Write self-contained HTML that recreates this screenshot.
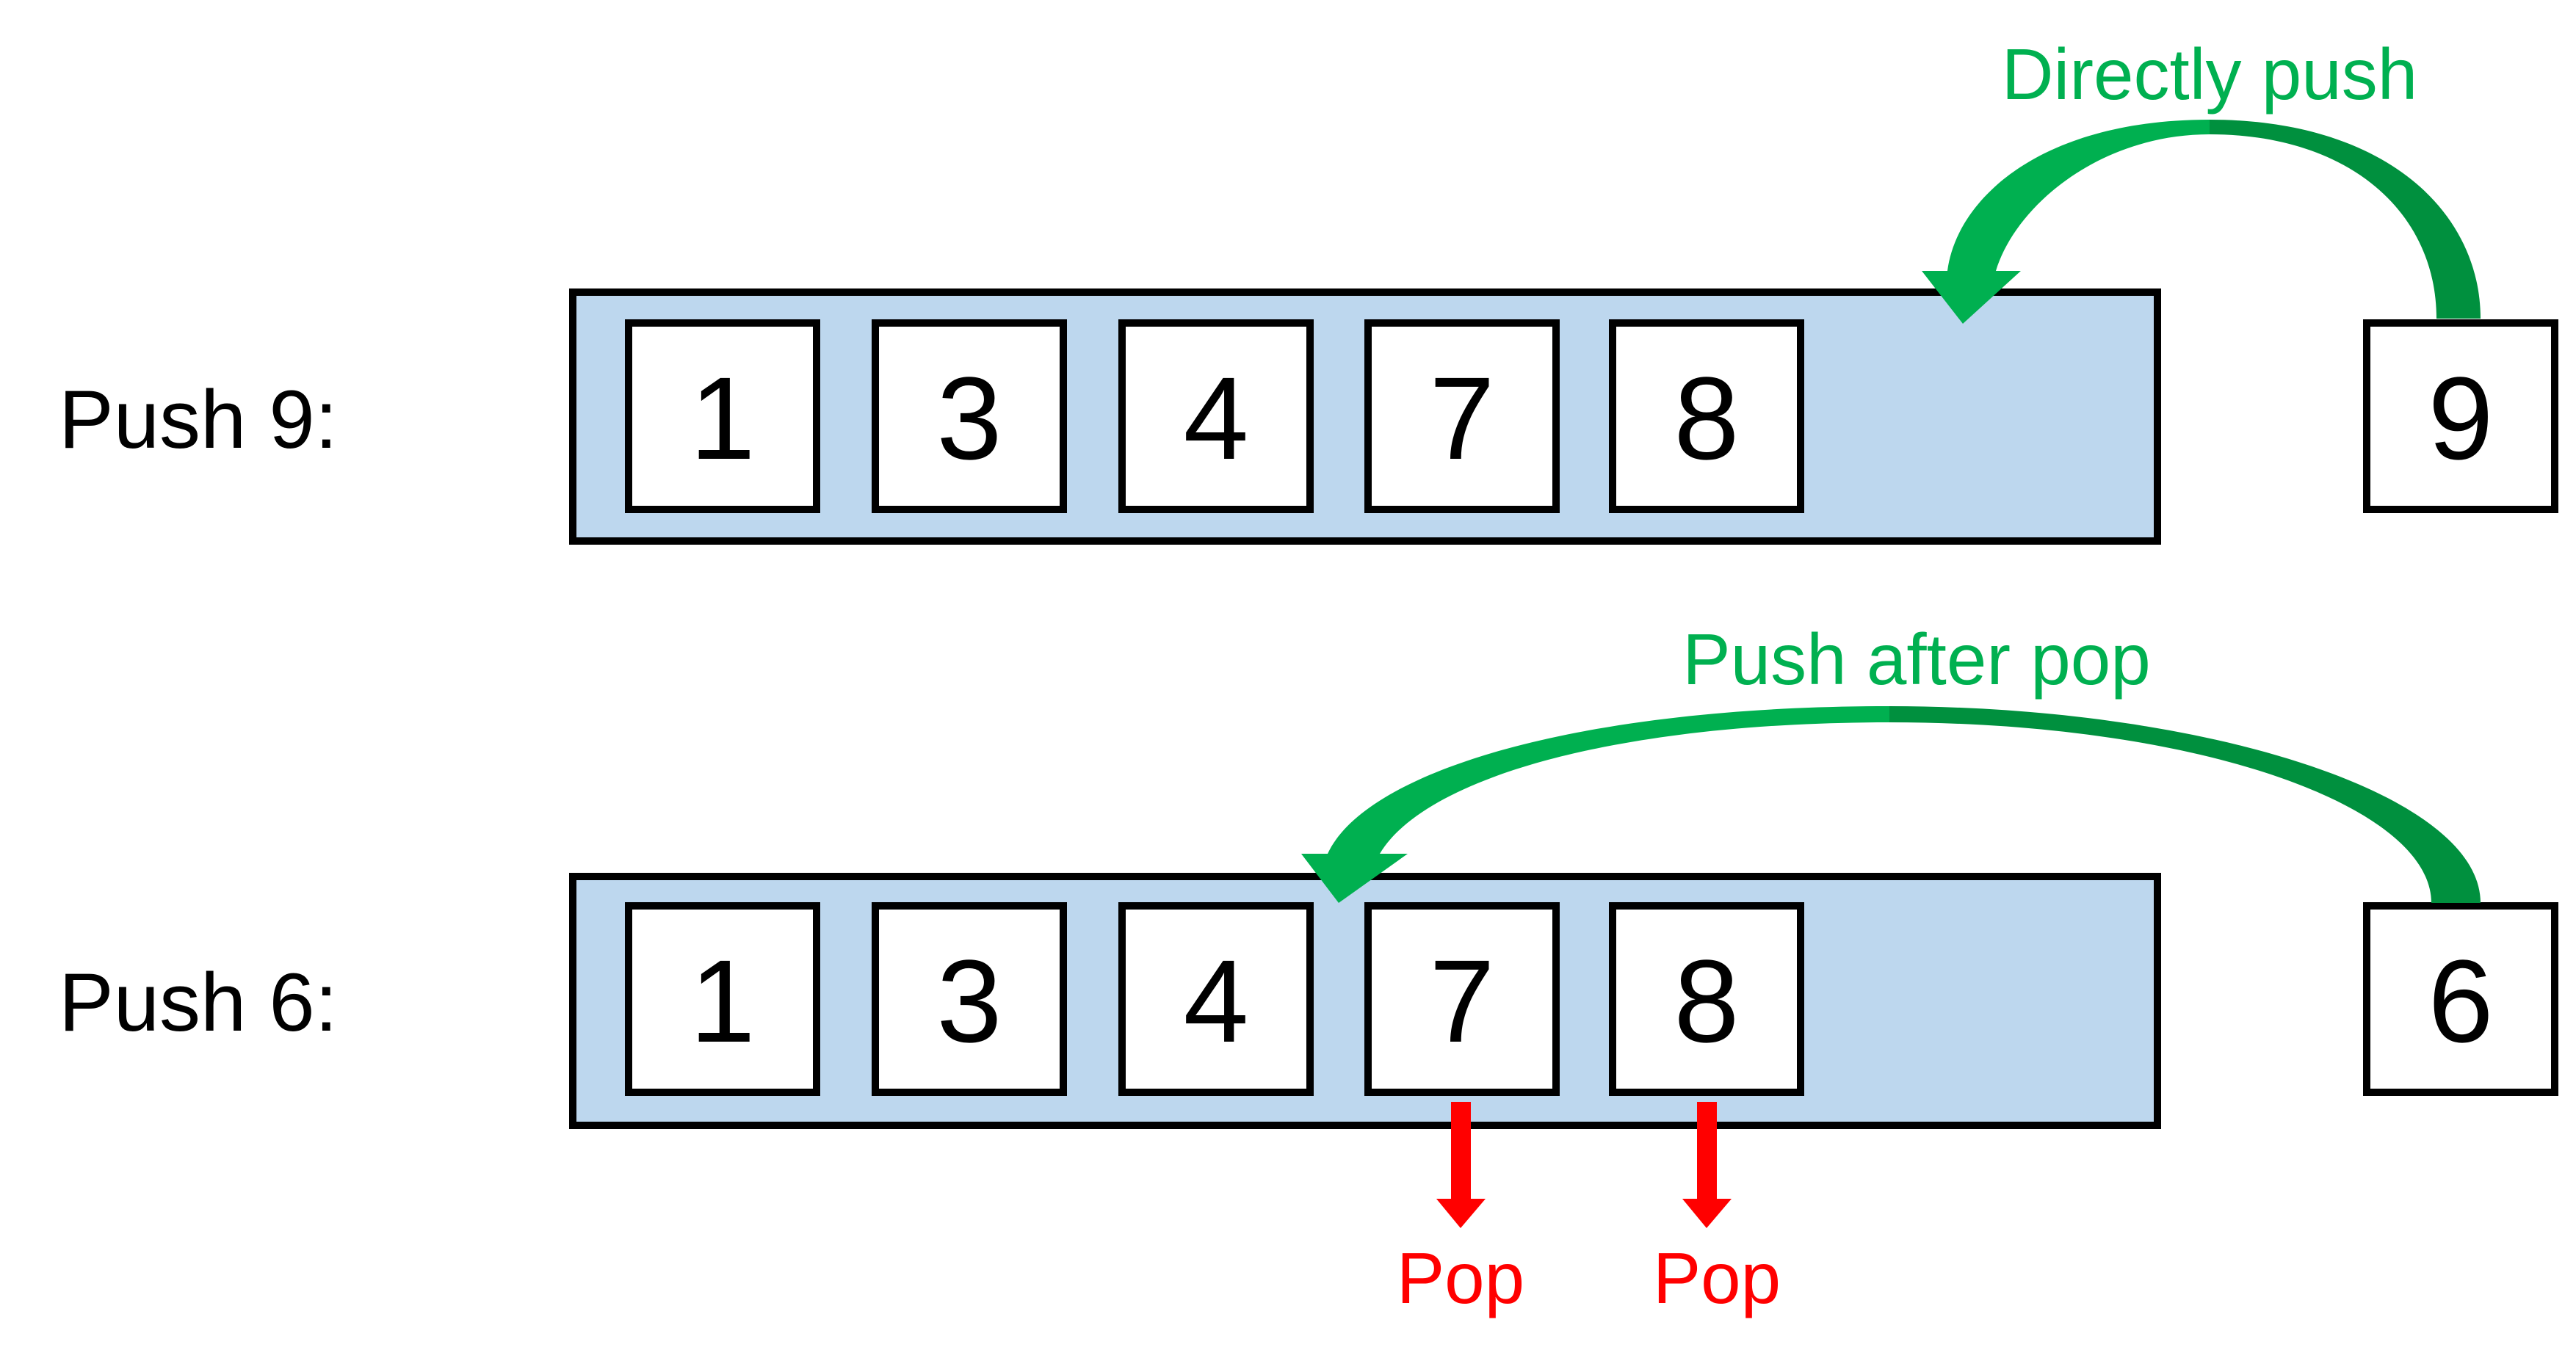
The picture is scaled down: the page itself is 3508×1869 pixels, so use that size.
<!DOCTYPE html>
<html><head><meta charset="utf-8"><style>
html,body{margin:0;padding:0;background:#fff;}
svg{display:block;}
text{font-family:"Liberation Sans",sans-serif;}
</style></head><body>
<svg width="3508" height="1869" viewBox="0 0 3508 1869" xmlns="http://www.w3.org/2000/svg">
<rect width="3508" height="1869" fill="#fff"/>
<!-- top row -->
<rect x="780" y="398" width="2158" height="339" fill="#BDD7EE" stroke="#000" stroke-width="10"/>
<g fill="#fff" stroke="#000" stroke-width="10">
<rect x="856" y="440" width="256" height="254"/>
<rect x="1192" y="440" width="256" height="254"/>
<rect x="1528" y="440" width="256" height="254"/>
<rect x="1863" y="440" width="256" height="254"/>
<rect x="2196" y="440" width="256" height="254"/>
<rect x="3223" y="440" width="256" height="254"/>
</g>
<g font-size="160" text-anchor="middle" fill="#000">
<text x="984" y="625">1</text><text x="1320" y="625">3</text><text x="1656" y="625">4</text>
<text x="1991" y="625">7</text><text x="2324" y="625">8</text><text x="3351" y="625">9</text>
</g>
<text x="80" y="610" font-size="112" fill="#000">Push 9:</text>
<!-- bottom row -->
<rect x="780" y="1194" width="2158" height="339" fill="#BDD7EE" stroke="#000" stroke-width="10"/>
<g fill="#fff" stroke="#000" stroke-width="10">
<rect x="856" y="1234" width="256" height="254"/>
<rect x="1192" y="1234" width="256" height="254"/>
<rect x="1528" y="1234" width="256" height="254"/>
<rect x="1863" y="1234" width="256" height="254"/>
<rect x="2196" y="1234" width="256" height="254"/>
<rect x="3223" y="1234" width="256" height="254"/>
</g>
<g font-size="160" text-anchor="middle" fill="#000">
<text x="984" y="1419">1</text><text x="1320" y="1419">3</text><text x="1656" y="1419">4</text>
<text x="1991" y="1419">7</text><text x="2324" y="1419">8</text><text x="3351" y="1419">6</text>
</g>
<text x="80" y="1404" font-size="112" fill="#000">Push 6:</text>
<!-- green arrow top -->
<path d="M3009,163 C2780,163 2665,270 2652,369 L2617,369 L2673,441 L2752,369 L2718,369 C2745,280 2860,183 3009,183 Z" fill="#00B050"/>
<path d="M3009,163 C3250,163 3378,290 3378,434 L3318,434 C3318,290 3200,183 3009,183 Z" fill="#00903E"/>
<text x="3009" y="135" font-size="98" fill="#00B050" text-anchor="middle">Directly push</text>
<!-- green arrow bottom -->
<path d="M2573,962 C2150,962 1860,1050 1808,1163 L1772,1163 L1823,1230 L1917,1163 L1879,1163 C1940,1060 2200,984 2573,984 Z" fill="#00B050"/>
<path d="M2573,962 C3000,962 3378,1080 3378,1230 L3311,1230 C3311,1100 3000,984 2573,984 Z" fill="#00903E"/>
<text x="2610" y="932" font-size="98" fill="#00B050" text-anchor="middle">Push after pop</text>
<!-- red pop arrows -->
<rect x="1976" y="1501" width="27" height="132" fill="#FF0000"/>
<polygon points="1956,1633 2023,1633 1989,1673" fill="#FF0000"/>
<rect x="2311" y="1501" width="27" height="132" fill="#FF0000"/>
<polygon points="2291,1633 2358,1633 2324,1673" fill="#FF0000"/>
<text x="1989" y="1775" font-size="98" fill="#FF0000" text-anchor="middle">Pop</text>
<text x="2338" y="1775" font-size="98" fill="#FF0000" text-anchor="middle">Pop</text>
</svg>
</body></html>
